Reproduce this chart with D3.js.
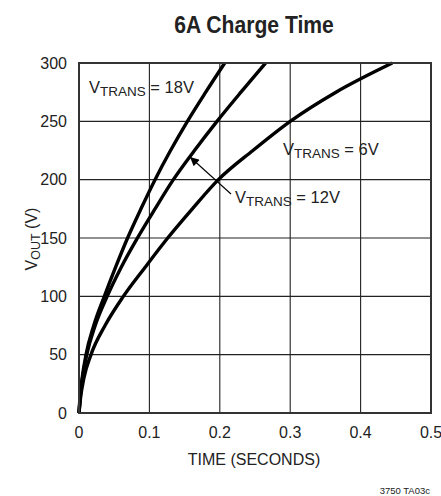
<!DOCTYPE html>
<html>
<head>
<meta charset="utf-8">
<script src="https://cdn.jsdelivr.net/npm/d3@7"></script>
<style>
  body { margin: 0; background: #fff; }
  svg { display: block; font-family: "Liberation Sans", Arial, sans-serif; }
</style>
</head>
<body>
<svg id="chart" width="441" height="496"></svg>
<script>
// Charge time curves
const xTicks = [0, 0.1, 0.2, 0.3, 0.4, 0.5];
const yTicks = [0, 50, 100, 150, 200, 250, 300];

const t18 = [0, 0.0012, 0.0045, 0.010, 0.021, 0.036, 0.052, 0.069, 0.088, 0.108, 0.130, 0.154, 0.180, 0.207];
const v18 = [0, 12, 30, 50, 75, 100, 125, 150, 175, 200, 225, 250, 275, 300];

const t12 = [0, 0.0015, 0.005, 0.011, 0.023, 0.040, 0.060, 0.083, 0.108, 0.134, 0.164, 0.196, 0.230, 0.265];
const v12 = [0, 12, 30, 50, 75, 100, 125, 150, 175, 200, 225, 250, 275, 300];

const t6 = [0, 0.002, 0.007, 0.017, 0.037, 0.063, 0.094, 0.126, 0.161, 0.198, 0.247, 0.300, 0.365, 0.445];
const v6 = [0, 12, 30, 50, 75, 100, 125, 150, 175, 200, 225, 250, 275, 300];

const seriesNames = ["18V", "12V", "6V"];
const seriesT = [t18, t12, t6];
const seriesV = [v18, v12, v6];

const svg = d3.select("#chart");
const x = d3.scaleLinear().domain([0, 0.5]).range([79, 431]);
const y = d3.scaleLinear().domain([0, 300]).range([413, 63]);

// grid
const grid = svg.append("g").attr("stroke", "#222").attr("stroke-width", 1.1);
grid.selectAll("line.vx").data(xTicks.slice(1, -1)).join("line")
  .attr("x1", (d) => x(d)).attr("x2", (d) => x(d))
  .attr("y1", y(0)).attr("y2", y(300));
grid.selectAll("line.hy").data(yTicks.slice(1, -1)).join("line")
  .attr("x1", x(0)).attr("x2", x(0.5))
  .attr("y1", (d) => y(d)).attr("y2", (d) => y(d));

// curves
const line = d3.line().x((d) => x(d[0])).y((d) => y(d[1])).curve(d3.curveMonotoneX);
seriesNames.forEach((name, i) => {
  const pts = seriesT[i].map((t, j) => [t, seriesV[i][j]]);
  svg.append("path")
    .datum(pts)
    .attr("fill", "none")
    .attr("stroke", "#000")
    .attr("stroke-width", 3.4)
    .attr("stroke-linejoin", "round")
    .attr("d", line);
});

// frame
svg.append("rect")
  .attr("x", x(0)).attr("y", y(300))
  .attr("width", x(0.5) - x(0)).attr("height", y(0) - y(300))
  .attr("fill", "none").attr("stroke", "#333").attr("stroke-width", 2);

// tick labels
svg.append("g").selectAll("text").data(xTicks).join("text")
  .attr("x", (d) => x(d)).attr("y", 438)
  .attr("text-anchor", "middle").attr("font-size", 16).attr("fill", "#222")
  .text((d) => d === 0 ? "0" : d3.format(".1f")(d));
svg.append("g").selectAll("text").data(yTicks).join("text")
  .attr("x", 67).attr("y", (d) => y(d)).attr("dy", "0.36em")
  .attr("text-anchor", "end").attr("font-size", 16).attr("fill", "#222")
  .text((d) => d);

// titles
svg.append("text")
  .attr("transform", "translate(254,33) scale(0.88,1)")
  .attr("text-anchor", "middle").attr("font-size", 24).attr("font-weight", "bold").attr("fill", "#222")
  .text("6A Charge Time");
svg.append("text")
  .attr("x", 254).attr("y", 465).attr("text-anchor", "middle")
  .attr("font-size", 16).attr("fill", "#222")
  .text("TIME (SECONDS)");

const yl = svg.append("text")
  .attr("transform", "translate(37,239) rotate(-90)")
  .attr("text-anchor", "middle").attr("font-size", 16).attr("fill", "#222");
yl.append("tspan").text("V");
yl.append("tspan").attr("font-size", 12.5).attr("dy", 3).text("OUT");
yl.append("tspan").attr("dy", -3).text(" (V)");

// series labels
function vtrans(px, py, val) {
  const t = svg.append("text").attr("x", px).attr("y", py).attr("font-size", 16.5).attr("fill", "#222");
  t.append("tspan").text("V");
  t.append("tspan").attr("font-size", 13.5).attr("dy", 3.3).text("TRANS");
  t.append("tspan").attr("dy", -3.3).text(" = " + val);
}
vtrans(89, 93, "18V");
vtrans(283, 155, "6V");
vtrans(235, 203, "12V");

// arrow to the 12V curve
svg.append("defs").append("marker")
  .attr("id", "arrowhead").attr("viewBox", "0 0 10 10")
  .attr("refX", 10).attr("refY", 5)
  .attr("markerWidth", 11).attr("markerHeight", 9)
  .attr("markerUnits", "userSpaceOnUse")
  .attr("orient", "auto")
  .append("path").attr("d", "M0,0L10,5L0,10z").attr("fill", "#000");
svg.append("line")
  .attr("x1", 231).attr("y1", 194).attr("x2", 190).attr("y2", 157)
  .attr("stroke", "#000").attr("stroke-width", 1.1)
  .attr("marker-end", "url(#arrowhead)");

// part code
svg.append("text")
  .attr("x", 430).attr("y", 494).attr("text-anchor", "end")
  .attr("font-size", 9.5).attr("fill", "#222")
  .text("3750 TA03c");
</script>
</body>
</html>
